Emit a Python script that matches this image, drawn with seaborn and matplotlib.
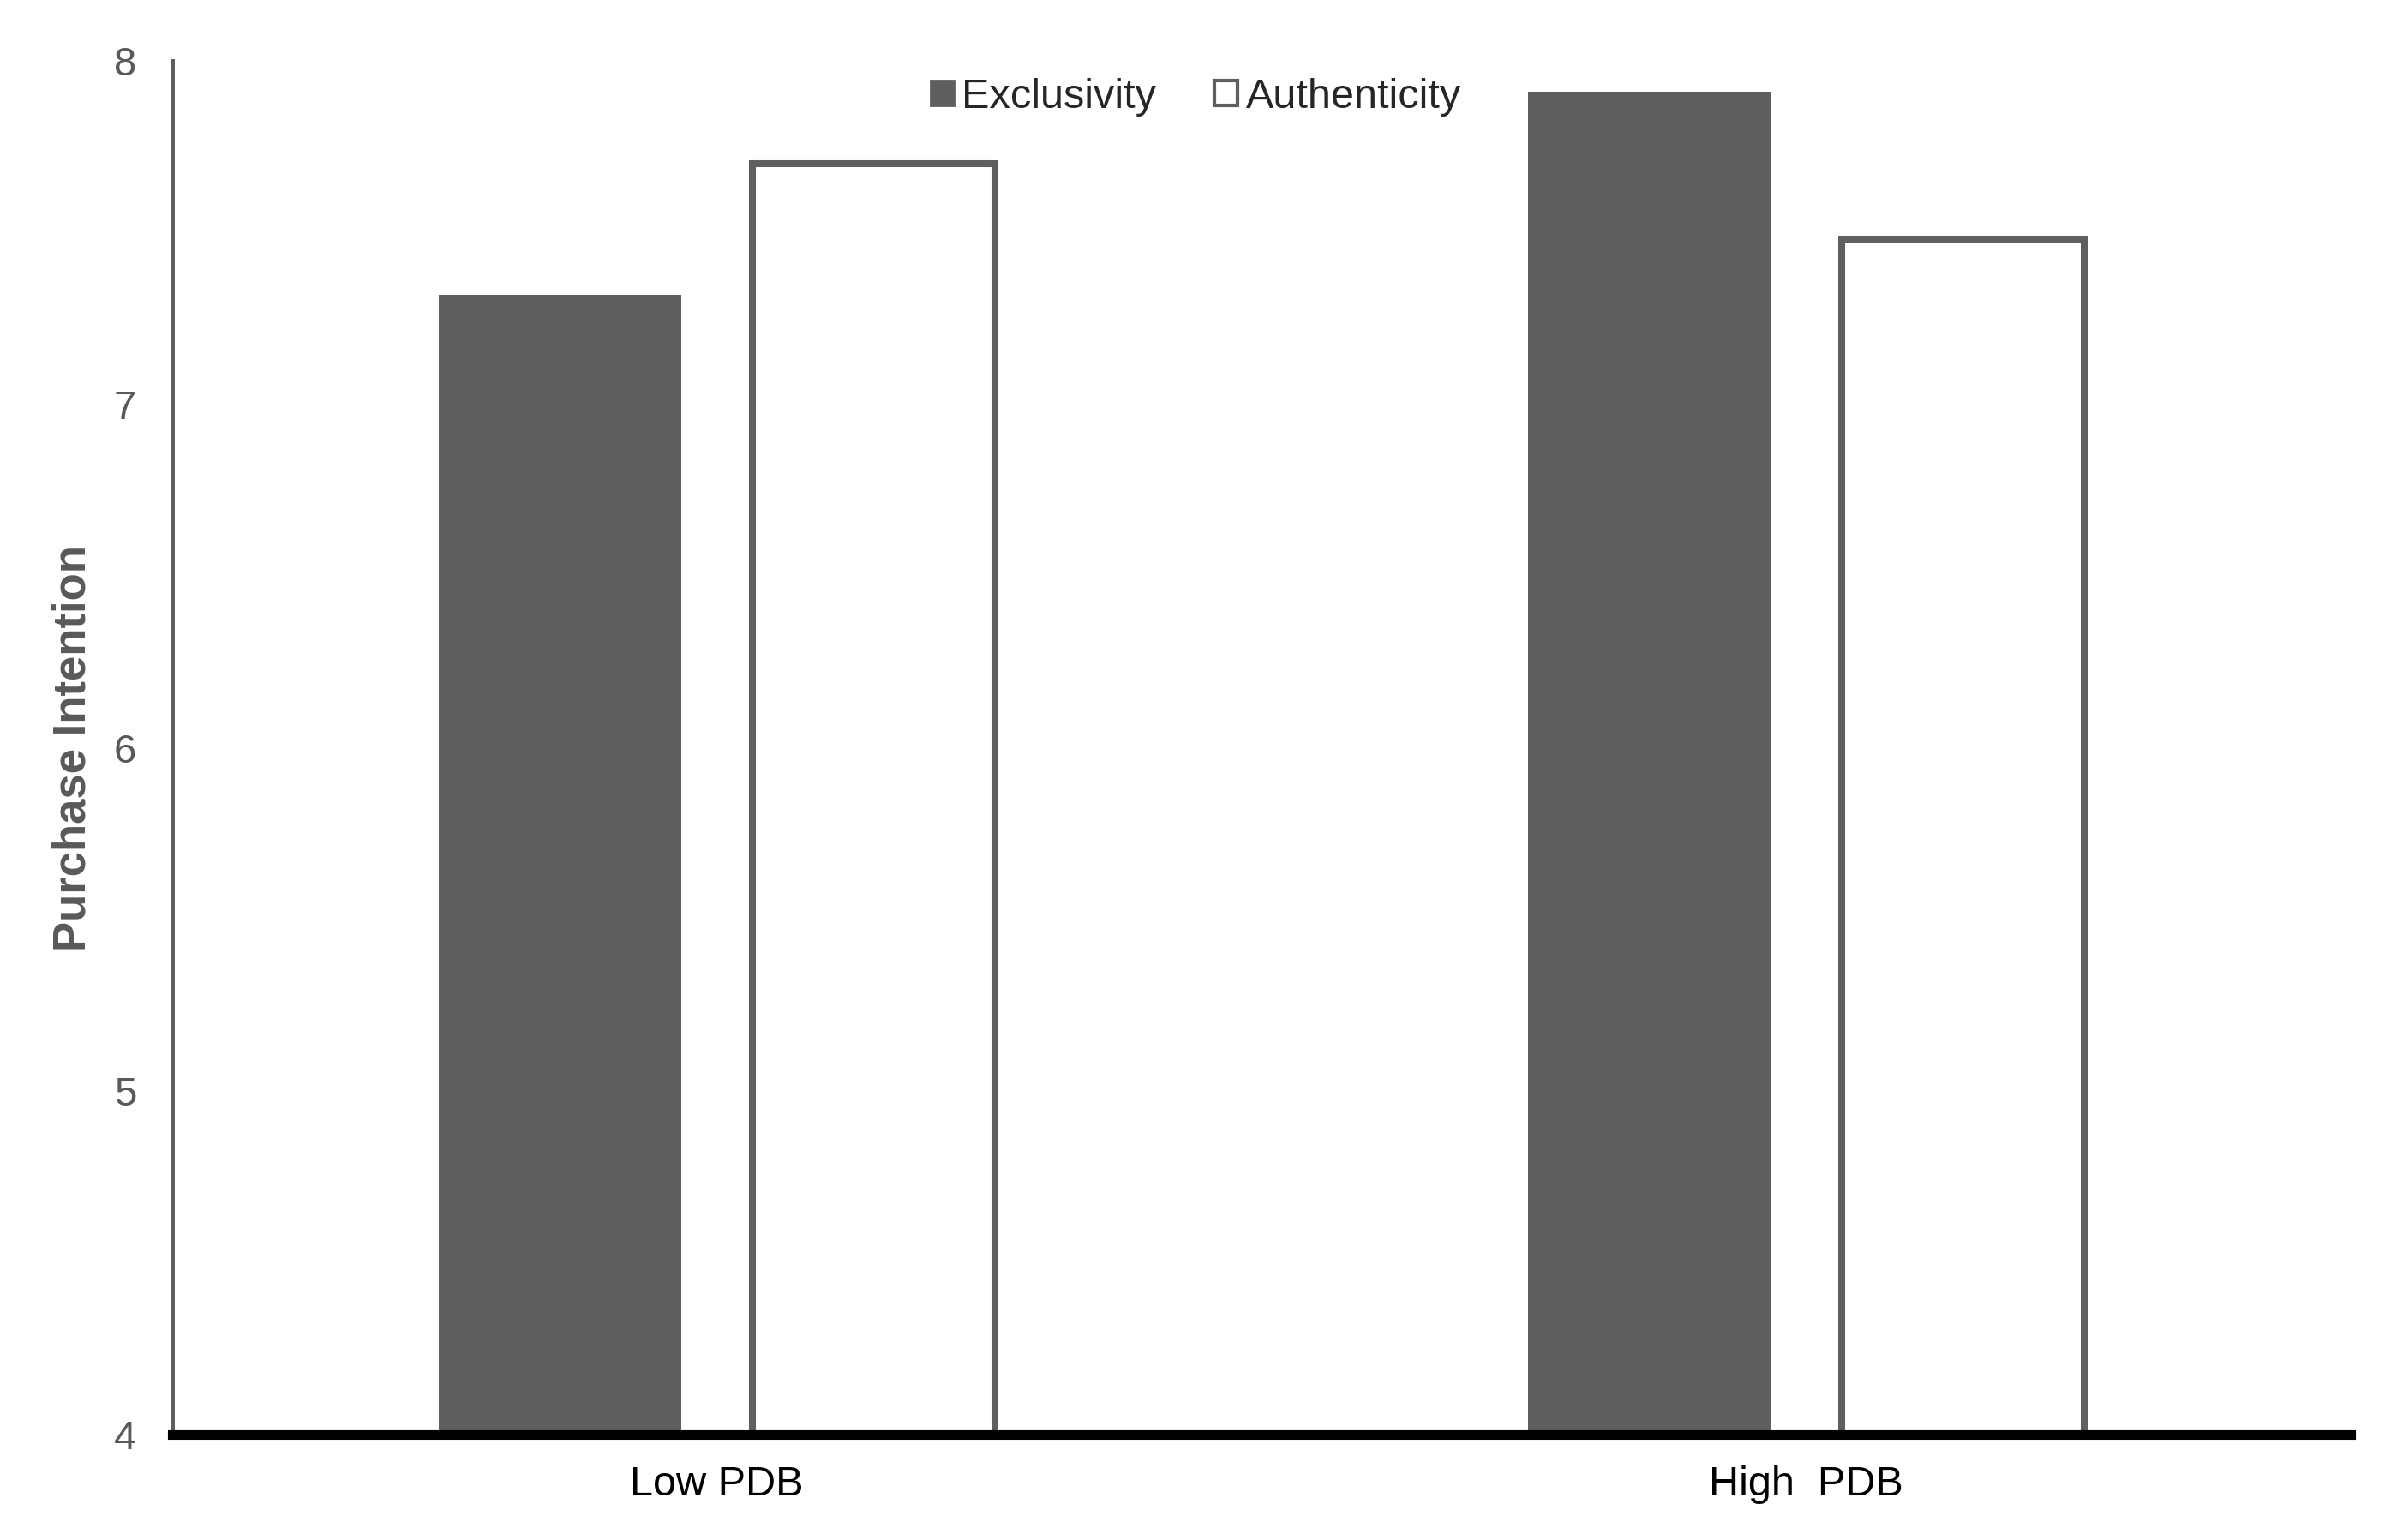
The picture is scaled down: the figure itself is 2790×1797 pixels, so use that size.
import pandas as pd
import matplotlib.pyplot as plt
import seaborn as sns
from matplotlib.patches import Patch

conditions = ['Low PDB', 'High  PDB']
series = ['Exclusivity', 'Authenticity']
exclusivity = [7.32, 7.91]
authenticity = [7.70, 7.48]

data = pd.DataFrame({
    'condition': conditions * 2,
    'type': [series[0]] * 2 + [series[1]] * 2,
    'value': exclusivity + authenticity,
})

sns.set_style('white')
plt.rcParams['font.family'] = ['Liberation Sans', 'DejaVu Sans']

dark = '#5f5f5f'
fig = plt.figure(figsize=(13.95, 8.985), dpi=200)
ax = fig.add_axes([0.072, 0.0684, 0.911, 0.8921])

sns.barplot(data=data, x='condition', y='value', hue='type', order=conditions,
            hue_order=series, palette=[dark, 'white'], width=0.576, gap=0.226,
            legend=False, ax=ax)

# second series: white bars with grey outline
for bar in ax.containers[1]:
    bar.set_edgecolor(dark)
    bar.set_linewidth(2.9)
for bar in ax.containers[0]:
    bar.set_edgecolor('none')

ax.set_ylim(4, 8)
ax.set_xlim(-0.5, 1.5)
ax.set_yticks([4, 5, 6, 7, 8])
ax.tick_params(axis='y', length=0, labelsize=17, labelcolor='#595959', pad=15)
ax.tick_params(axis='x', length=0, labelsize=17.5, labelcolor='black', pad=13)

ax.set_xlabel('')
ax.set_ylabel('Purchase Intention', fontsize=19, fontweight='bold', color='#595959', labelpad=8)

sns.despine(ax=ax)
ax.spines['left'].set_color(dark)
ax.spines['left'].set_linewidth(1.8)
ax.spines['bottom'].set_color('black')
ax.spines['bottom'].set_linewidth(4)
ax.spines['bottom'].set_zorder(5)

handles = [Patch(facecolor=dark, edgecolor=dark, label=series[0]),
           Patch(facecolor='white', edgecolor=dark, linewidth=1.5, label=series[1])]
ax.legend(handles=handles, loc='upper center', bbox_to_anchor=(0.47, 1.015), ncol=2,
          frameon=False, fontsize=17.5, handlelength=0.55, handleheight=0.55,
          handletextpad=0.2, columnspacing=1.4)

plt.savefig('out.png', dpi=200)
